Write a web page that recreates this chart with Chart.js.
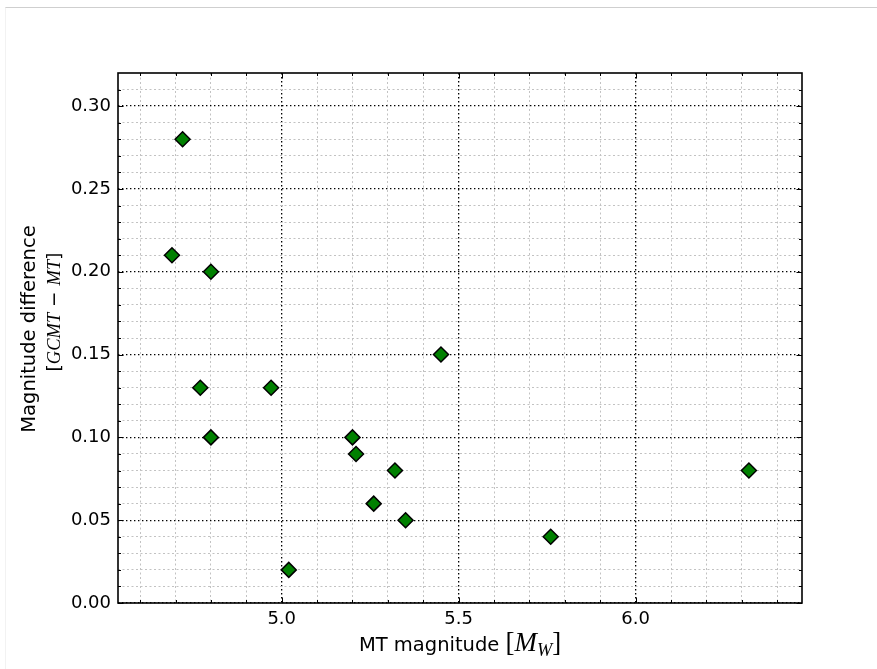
<!DOCTYPE html>
<html>
<head>
<meta charset="utf-8">
<script src="https://cdn.jsdelivr.net/npm/chart.js@4.4.0/dist/chart.umd.min.js"></script>
<style>
  body { margin: 0; background: #fff; }
  #wrap { position: relative; width: 877px; height: 669px; overflow: hidden; }
  #frame { position: absolute; left: 5px; top: 7px; right: 0; bottom: 0;
           border-top: 1px solid #cfcfcf; border-left: 1px solid #f2f2f2; }
  canvas { position: absolute; left: 0; top: 0; }
  .lbl { position: absolute; font-family: "DejaVu Sans"; font-size: 19.5px; color: #000;
         white-space: nowrap; transform: translate(-50%, -50%); line-height: 1; }
  .rot { transform: translate(-50%, -50%) rotate(-90deg); }
  .m { font-family: "Liberation Serif"; font-style: italic; }
  .big { font-family: "Liberation Serif"; font-size: 1.38em; }
  sub { font-size: 0.68em; vertical-align: -0.25em; }
</style>
</head>
<body>
<div id="wrap">
  <div id="frame"></div>
  <canvas id="scatter" width="877" height="669"></canvas>
  <div class="lbl rot" style="left:29px; top:329px;">Magnitude difference</div>
  <div class="lbl rot" style="left:54px; top:312px; font-size:18.5px;">[<span class="m">GCMT</span> &minus; <span class="m">MT</span>]</div>
  <div class="lbl" style="left:460px; top:644px;">MT magnitude <span class="big">[<span class="m">M<sub>W</sub></span>]</span></div>
</div>
<script>
// MT magnitude (x) vs. magnitude difference GCMT - MT (y)
const magMT   = [4.72, 4.69, 4.80, 5.45, 4.77, 4.97, 4.80, 5.20, 5.21, 5.32, 6.32, 5.26, 5.35, 5.76, 5.02];
const magDiff = [0.28, 0.21, 0.20, 0.15, 0.13, 0.13, 0.10, 0.10, 0.09, 0.08, 0.08, 0.06, 0.05, 0.04, 0.02];

const xMajorTicks = [5.0, 5.5, 6.0];
const yMajorTicks = [0.00, 0.05, 0.10, 0.15, 0.20, 0.25, 0.30];

const xMin = 4.5375, xMax = 6.47;
const yMin = 0, yMax = 0.32;

// minor ticks every 0.1 on x and 0.01 on y
const xTicksAll = [];
for (let i = 46; i <= 64; i++) xTicksAll.push(i / 10);
const yTicksAll = [];
for (let i = 0; i <= 31; i++) yTicksAll.push(i / 100);

function isMajor(list, v) {
  return list.some(t => Math.abs(t - v) < 1e-6);
}

// frame + inward ticks on all four sides (matplotlib classic look)
const frameTicks = {
  id: 'frameTicks',
  afterDraw(chart) {
    const ctx = chart.ctx;
    const a = chart.chartArea;
    const xs = chart.scales.x, ys = chart.scales.y;
    ctx.save();
    ctx.strokeStyle = '#000';
    ctx.lineWidth = 1;
    ctx.beginPath();
    xs.ticks.forEach(t => {
      const px = Math.round(xs.getPixelForValue(t.value)) + 0.5;
      const len = isMajor(xMajorTicks, t.value) ? 5.5 : 3;
      ctx.moveTo(px, a.bottom); ctx.lineTo(px, a.bottom - len);
      ctx.moveTo(px, a.top); ctx.lineTo(px, a.top + len);
    });
    ys.ticks.forEach(t => {
      const py = Math.round(ys.getPixelForValue(t.value)) + 0.5;
      const len = isMajor(yMajorTicks, t.value) ? 5.5 : 3;
      ctx.moveTo(a.left, py); ctx.lineTo(a.left + len, py);
      ctx.moveTo(a.right, py); ctx.lineTo(a.right - len, py);
    });
    ctx.stroke();
    ctx.lineWidth = 1.6;
    ctx.strokeRect(a.left, a.top, a.right - a.left, a.bottom - a.top);
    ctx.restore();
  }
};

Chart.defaults.font.family = 'DejaVu Sans';
Chart.defaults.font.size = 18;
Chart.defaults.color = '#000';

new Chart(document.getElementById('scatter'), {
  type: 'scatter',
  data: {
    datasets: [{
      data: magMT.map((x, i) => ({ x: x, y: magDiff[i] })),
      pointStyle: 'rectRot',
      pointRadius: 7.5,
      pointHoverRadius: 7.5,
      backgroundColor: '#008000',
      borderColor: '#000',
      borderWidth: 1.5
    }]
  },
  options: {
    responsive: false,
    animation: false,
    layout: { padding: { top: 73, right: 75, left: 0, bottom: 0 } },
    plugins: { legend: { display: false }, tooltip: { enabled: false } },
    scales: {
      x: {
        type: 'linear',
        min: xMin,
        max: xMax,
        afterBuildTicks: s => { s.ticks = xTicksAll.map(v => ({ value: v })); },
        afterFit: s => { s.height = 66; },
        ticks: {
          autoSkip: false,
          maxRotation: 0,
          padding: 6,
          callback: v => isMajor(xMajorTicks, v) ? v.toFixed(1) : ''
        },
        grid: {
          drawTicks: false,
          lineWidth: c => isMajor(xMajorTicks, c.tick ? c.tick.value : NaN) ? 1.3 : 1,
          color: c => isMajor(xMajorTicks, c.tick ? c.tick.value : NaN) ? '#000' : '#c2c2c2'
        },
        border: {
          display: false,
          dash: c => isMajor(xMajorTicks, c.tick ? c.tick.value : NaN) ? [1.4, 2.6] : [2, 2.5]
        }
      },
      y: {
        type: 'linear',
        min: yMin,
        max: yMax,
        afterBuildTicks: s => { s.ticks = yTicksAll.map(v => ({ value: v })); },
        afterFit: s => { s.width = 118; },
        ticks: {
          autoSkip: false,
          padding: 7,
          callback: v => isMajor(yMajorTicks, v) ? v.toFixed(2) : ''
        },
        grid: {
          drawTicks: false,
          lineWidth: c => isMajor(yMajorTicks, c.tick ? c.tick.value : NaN) ? 1.3 : 1,
          color: c => isMajor(yMajorTicks, c.tick ? c.tick.value : NaN) ? '#000' : '#c2c2c2'
        },
        border: {
          display: false,
          dash: c => isMajor(yMajorTicks, c.tick ? c.tick.value : NaN) ? [1.4, 2.6] : [2, 2.5]
        }
      }
    }
  },
  plugins: [frameTicks]
});
</script>
</body>
</html>
